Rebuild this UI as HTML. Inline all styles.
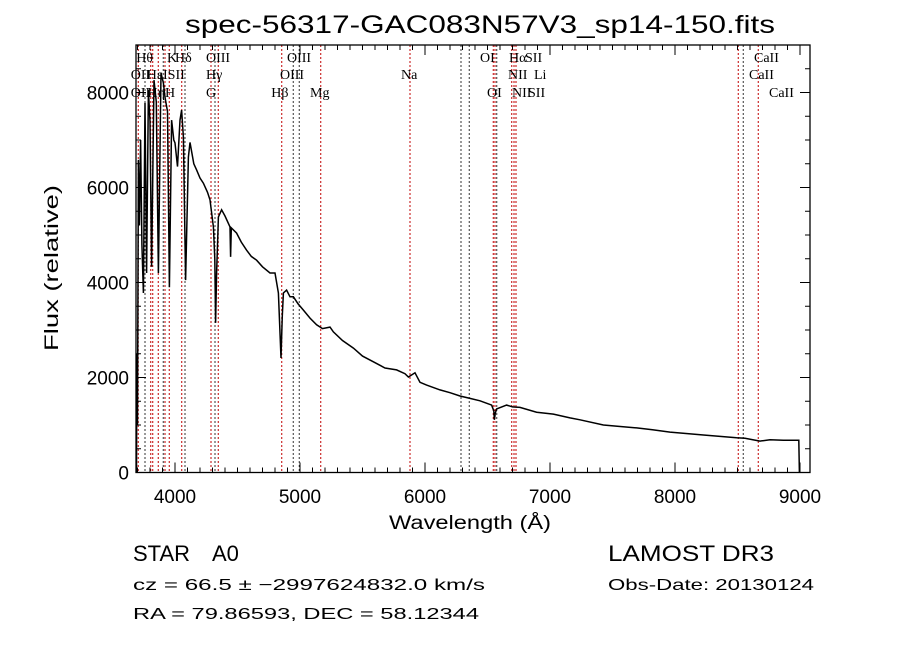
<!DOCTYPE html>
<html><head><meta charset="utf-8"><style>
body{margin:0;background:#fff}
svg{display:block}
text{font-family:"Liberation Sans",sans-serif;fill:#000}
.ll{font-family:"Liberation Serif",serif;font-size:14px}
</style></head><body>
<svg id="chart" width="900" height="649">
<text x="480" y="33" text-anchor="middle" font-size="25" textLength="590" lengthAdjust="spacingAndGlyphs">spec-56317-GAC083N57V3_sp14-150.fits</text>
<text x="470" y="529" text-anchor="middle" font-size="19" textLength="162" lengthAdjust="spacingAndGlyphs">Wavelength (Å)</text>
<text transform="translate(58,268) rotate(-90)" text-anchor="middle" font-size="19" textLength="166" lengthAdjust="spacingAndGlyphs">Flux (relative)</text>
<text x="133" y="561" font-size="22">STAR</text>
<text x="212" y="561" font-size="22">A0</text>
<text x="608" y="561" font-size="22" textLength="166" lengthAdjust="spacingAndGlyphs">LAMOST DR3</text>
<text x="133" y="590" font-size="16" textLength="352" lengthAdjust="spacingAndGlyphs">cz = 66.5 ± −2997624832.0 km/s</text>
<text x="608" y="590" font-size="16" textLength="206" lengthAdjust="spacingAndGlyphs">Obs-Date: 20130124</text>
<text x="133" y="619" font-size="16" textLength="346" lengthAdjust="spacingAndGlyphs">RA =  79.86593, DEC =  58.12344</text>
<g id="lines"></g><g id="axes"></g><g id="plot"></g>
</svg>
<script>
const waves=[3692,3695,3700,3707,3715,3725,3735,3747,3760,3773,3787,3800,3813,3832,3850,3867,3888,3907,3920,3940,3955,3973,3990,4000,4020,4040,4053,4067,4085,4107,4120,4150,4173,4200,4227,4260,4280,4307,4318,4325,4333,4347,4373,4400,4440,4445,4450,4493,4530,4573,4610,4653,4700,4760,4800,4827,4848,4858,4867,4893,4920,4947,4985,5027,5080,5133,5180,5240,5267,5340,5427,5500,5587,5680,5773,5840,5867,5920,5960,6013,6120,6200,6280,6360,6440,6533,6550,6555,6562,6573,6653,6700,6760,6893,7027,7160,7240,7427,7550,7693,7820,7960,8100,8227,8360,8493,8560,8680,8760,8867,8990,8995];
const flux=[0,2500,1000,6580,5200,7000,4800,3780,7780,4200,8050,7400,4330,8260,7800,4200,8410,8200,7900,7600,3900,7420,7000,6940,6440,7420,7630,7060,4050,6640,6950,6500,6370,6200,6090,5900,5740,5170,4500,3150,4200,5380,5530,5400,5170,4540,5150,5040,4850,4680,4550,4470,4330,4200,4200,3780,2410,3300,3780,3840,3700,3700,3550,3420,3250,3110,3030,3060,2960,2780,2620,2450,2330,2200,2160,2080,2010,2100,1900,1840,1740,1680,1610,1560,1510,1420,1300,1110,1250,1340,1420,1380,1370,1270,1230,1150,1110,1000,970,940,900,850,820,790,760,730,720,660,690,680,680,0];
const xTicks=[4000,5000,6000,7000,8000,9000];
const yTicks=[0,2000,4000,6000,8000];
const lineWaves=[3706,3760,3806,3822,3866,3906,3920,3954,4054,4080,4288,4320,4346,4854,4946,4994,5166,5880,6288,6354,6546,6560,6574,6694,6712,6728,8506,8546,8666];
const lineColors=["r","k","r","r","r","k","r","r","r","k","r","k","r","r","k","k","r","r","k","k","r","r","k","r","r","r","r","k","r"];
const labelTexts=["Hθ","K","Hδ","OIII","OIII","OII","Hε","ISII","Hγ","OIII","OII","Hη","H","G","Hβ","Mg","OI","Hα","SII","CaII","Na","NII","Li","CaII","OI","NII","SII","CaII"];
const labelWaves=[3690,3936,4000,4248,4896,3646,3774,3904,4248,4840,3646,3780,3920,4248,4770,5080,6440,6672,6800,8632,5808,6664,6872,8592,6496,6696,6824,8752];
const labelRows=[0,0,0,0,0,1,1,1,1,1,2,2,2,2,2,2,0,0,0,0,1,1,1,1,2,2,2,2];

const X0=136,X1=810,Y0=472.5,Y1=45,WMIN=3688,WMAX=9080,FMAX=9000;
const xs=w=>X0+(w-WMIN)/(WMAX-WMIN)*(X1-X0);
const ys=f=>Y0-f/FMAX*(Y0-Y1);
const NS="http://www.w3.org/2000/svg";
function mk(tag,attrs,parent){const e=document.createElementNS(NS,tag);for(const k in attrs)e.setAttribute(k,attrs[k]);parent.appendChild(e);return e;}
const gl=document.getElementById('lines'),ga=document.getElementById('axes'),gp=document.getElementById('plot');

lineWaves.forEach((w,i)=>{
  const l=mk('line',{x1:xs(w),x2:xs(w),y1:Y1,y2:Y0,stroke:lineColors[i]==='r'?'#c00000':'#333','stroke-width':1,'stroke-dasharray':'2,2'},gl);
  
  
});
const rowY=[62,79,97];
labelTexts.forEach((t,i)=>{
  const e=mk('text',{x:xs(labelWaves[i]),y:rowY[labelRows[i]],class:'ll'},gl);
  e.textContent=t;
  
  
});

const frame=mk('rect',{x:X0,y:Y1,width:X1-X0,height:Y0-Y1,fill:'none',stroke:'#000','stroke-width':1.3},ga);


for(let w=3700;w<=WMAX;w+=100){
  const major=w%1000===0,len=major?10:5;
  mk('line',{x1:xs(w),x2:xs(w),y1:Y0,y2:Y0-len,stroke:'#000'},ga);
  mk('line',{x1:xs(w),x2:xs(w),y1:Y1,y2:Y1+len,stroke:'#000'},ga);
}
xTicks.forEach(w=>{
  const t=mk('text',{x:xs(w),y:503,'text-anchor':'middle','font-size':19},ga);
  t.textContent=w;
  
  
});
for(let f=0;f<=FMAX;f+=500){
  const major=f%2000===0,len=major?10:5;
  mk('line',{x1:X0,x2:X0+len,y1:ys(f),y2:ys(f),stroke:'#000'},ga);
  mk('line',{x1:X1,x2:X1-len,y1:ys(f),y2:ys(f),stroke:'#000'},ga);
}
yTicks.forEach(f=>{
  const t=mk('text',{x:129,y:ys(f)+7,'text-anchor':'end','font-size':19},ga);
  t.textContent=f;
  
  
});

const pts=waves.map((w,i)=>xs(w).toFixed(1)+','+ys(flux[i]).toFixed(1)).join(' ');
const pl=mk('polyline',{points:pts,fill:'none',stroke:'#000','stroke-width':1.5},gp);


</script>
</body></html>
